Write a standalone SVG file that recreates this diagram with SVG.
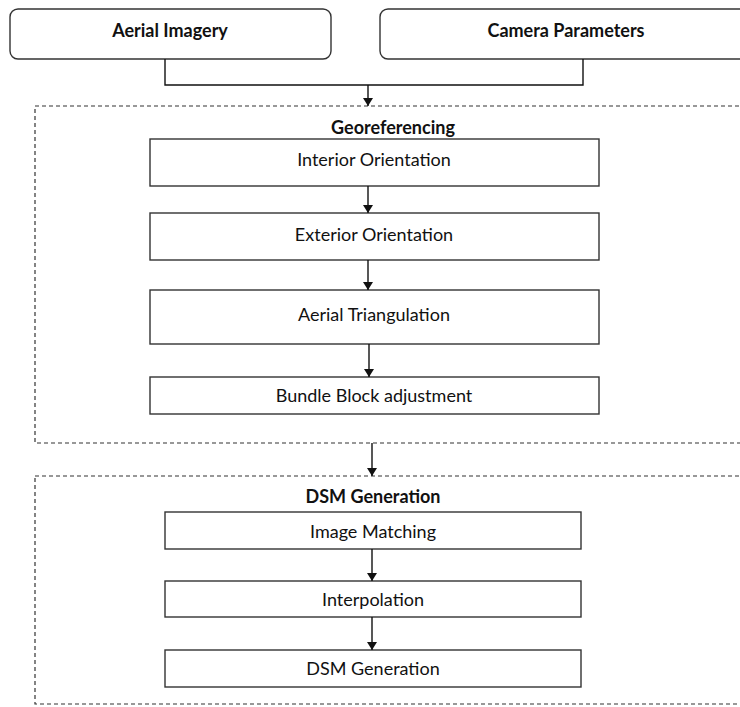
<svg xmlns="http://www.w3.org/2000/svg" width="740" height="707" viewBox="0 0 740 707">
<defs>
<marker id="ah" markerWidth="10" markerHeight="10" refX="8" refY="5" orient="auto" markerUnits="userSpaceOnUse">
<path d="M0,0 L8,5 L0,10 z" fill="#111"/>
</marker>
<style>
.rbox{fill:#fff;stroke:#333;stroke-width:1.4}
.box{fill:#fff;stroke:#333;stroke-width:1.4}
.grp{fill:none;stroke:#333;stroke-width:1.2;stroke-dasharray:4 3}
.t{font-family:Lato,"Open Sans","Liberation Sans",sans-serif;font-size:18px;fill:#111;text-anchor:middle;dominant-baseline:central}
.b{font-weight:bold}
.c{fill:none;stroke:#111;stroke-width:1.4}
.ca{fill:none;stroke:#111;stroke-width:1.4;marker-end:url(#ah)}
</style>
</defs>
<rect width="740" height="707" fill="#fff"/>
<g id="grp-georef">
<rect class="grp" x="35" y="106" width="720" height="337"/>
<text class="t b" x="393" y="127">Georeferencing</text>
</g>
<g id="grp-dsm">
<rect class="grp" x="35" y="476" width="720" height="228"/>
<text class="t b" x="373" y="496">DSM Generation</text>
</g>
<g id="n-aerial">
<rect class="rbox" x="10" y="9" width="321" height="50" rx="8"/>
<text class="t b" x="170" y="30">Aerial Imagery</text>
</g>
<g id="n-camera">
<rect class="rbox" x="380" y="9" width="380" height="50" rx="8"/>
<text class="t b" x="566" y="30">Camera Parameters</text>
</g>
<g id="n-interior">
<rect class="box" x="150" y="139" width="449" height="47"/>
<text class="t" x="374" y="159">Interior Orientation</text>
</g>
<g id="n-exterior">
<rect class="box" x="150" y="213" width="449" height="47"/>
<text class="t" x="374" y="234">Exterior Orientation</text>
</g>
<g id="n-triang">
<rect class="box" x="150" y="290" width="449" height="54"/>
<text class="t" x="374" y="314">Aerial Triangulation</text>
</g>
<g id="n-bundle">
<rect class="box" x="150" y="377" width="449" height="37"/>
<text class="t" x="374" y="395">Bundle Block adjustment</text>
</g>
<g id="n-matching">
<rect class="box" x="165" y="512" width="416" height="37"/>
<text class="t" x="373" y="531">Image Matching</text>
</g>
<g id="n-interp">
<rect class="box" x="165" y="581" width="416" height="36"/>
<text class="t" x="373" y="599">Interpolation</text>
</g>
<g id="n-dsm">
<rect class="box" x="165" y="650" width="416" height="37"/>
<text class="t" x="373" y="668">DSM Generation</text>
</g>
<g id="connectors">
<polyline class="c" points="165,59 165,85 583,85 583,59"/>
<line class="ca" x1="368" y1="85" x2="368" y2="106"/>
<line class="ca" x1="368" y1="186" x2="368" y2="213"/>
<line class="ca" x1="368" y1="260" x2="368" y2="290"/>
<line class="ca" x1="369" y1="344" x2="369" y2="377"/>
<line class="ca" x1="372" y1="443" x2="372" y2="476"/>
<line class="ca" x1="372" y1="549" x2="372" y2="581"/>
<line class="ca" x1="372" y1="617" x2="372" y2="650"/>
</g>
</svg>
